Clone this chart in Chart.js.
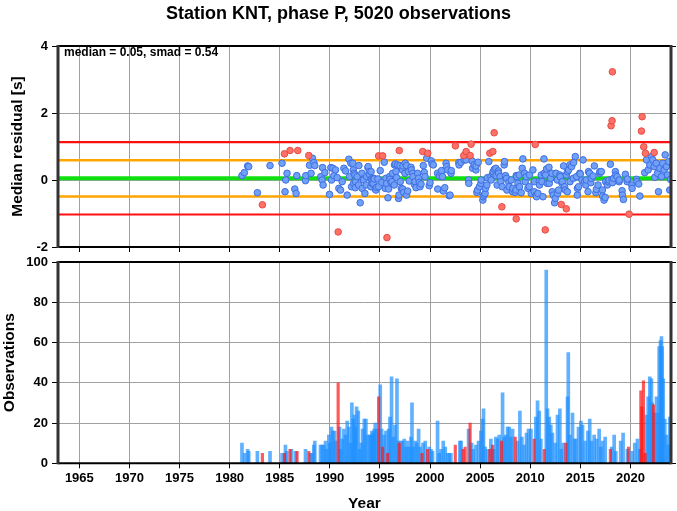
<!DOCTYPE html>
<html><head><meta charset="utf-8">
<script src="https://cdn.jsdelivr.net/npm/chart.js@4.4.1/dist/chart.umd.min.js"></script>
<style>
html,body{margin:0;padding:0;background:#fff;}
#wrap{position:relative;width:677px;height:511px;overflow:hidden;}
canvas{position:absolute;left:0;}
#top{top:0;} #bot{top:250px;}
</style></head><body>
<div id="wrap"><canvas id="top" width="677" height="262"></canvas><canvas id="bot" width="677" height="261"></canvas></div>
<script>
/* ---------- data ---------- */
const titleText='Station KNT, phase P, 5020 observations';
const median=0.05, smad=0.54;
const xMin=1962.87, xMax=2024.05;

// per-bin median residuals (blue = accepted)
const goodYears=[
 1981.23,1981.47,1981.80,1981.90,1982.77,1984.03,1985.23,1985.53,1985.60,1985.73,
 1986.50,1986.63,1986.70,1987.57,1987.60,1987.97,1988.13,1988.27,1988.40,1988.50,
 1989.10,1989.23,1989.27,1989.33,1989.50,1989.97,1990.10,1990.17,1990.30,1990.40,
 1990.57,1990.73,1990.90,1991.07,1991.23,1991.40,1991.57,1991.73,1991.90,1991.97,
 1992.10,1992.17,1992.30,1992.34,1992.38,1992.43,1992.50,1992.54,1992.57,1992.73,
 1992.87,1992.90,1993.03,1993.20,1993.23,1993.34,1993.37,1993.50,1993.63,1993.67,
 1993.80,1993.83,1993.94,1993.97,1994.10,1994.13,1994.20,1994.23,1994.33,1994.40,
 1994.12,1994.43,1994.53,1994.60,1994.67,1994.80,1994.87,1995.03,1995.20,1995.43,
 1995.53,1995.60,1995.67,1995.80,1995.86,1995.97,1996.00,1996.13,1996.20,1996.27,
 1996.43,1996.45,1996.53,1996.60,1996.67,1996.76,1996.86,1996.90,1997.00,1997.03,
 1997.13,1997.26,1997.28,1997.30,1997.37,1997.50,1997.53,1997.66,1997.67,1997.77,
 1997.86,1997.93,1998.10,1998.13,1998.27,1998.30,1998.43,1998.50,1998.60,1998.76,
 1998.85,1998.93,1999.00,1999.10,1999.33,1999.42,1999.50,1999.67,1999.92,2000.00,
 2000.13,2000.20,2000.33,2000.75,2000.77,2000.93,2001.10,2001.15,2001.25,2001.33,
 2001.47,2001.60,2001.65,2001.77,2001.92,2002.00,2002.10,2002.12,2002.87,2002.90,
 2003.10,2003.40,2003.60,2003.85,2003.87,2004.20,2004.25,2004.40,2004.58,2004.60,
 2004.67,2004.74,2004.80,2004.93,2005.08,2005.10,2005.27,2005.30,2005.40,2005.50,
 2005.53,2005.67,2005.74,2005.87,2006.07,2006.10,2006.27,2006.30,2006.43,2006.57,
 2006.60,2006.70,2006.83,2006.84,2007.00,2007.07,2007.20,2007.40,2007.43,2007.53,
 2007.64,2007.67,2007.87,2007.90,2008.10,2008.23,2008.27,2008.50,2008.57,2008.60,
 2008.67,2008.77,2008.90,2008.93,2009.10,2009.20,2009.27,2009.43,2009.50,2009.60,
 2009.77,2009.90,2009.93,2010.10,2010.27,2010.40,2010.43,2010.60,2010.63,2010.77,
 2010.90,2010.93,2011.10,2011.16,2011.27,2011.37,2011.40,2011.53,2011.63,2011.70,
 2011.87,2011.90,2012.03,2012.17,2012.20,2012.30,2012.43,2012.50,2012.57,2012.70,
 2012.73,2012.83,2012.96,2013.00,2013.17,2013.20,2013.33,2013.43,2013.50,2013.60,
 2013.70,2013.72,2013.83,2013.96,2013.97,2014.13,2014.30,2014.33,2014.50,2014.63,
 2014.70,2014.72,2014.83,2014.95,2015.00,2015.17,2015.27,2015.43,2015.55,2015.60,
 2015.77,2015.82,2015.93,2016.05,2016.10,2016.27,2016.40,2016.55,2016.60,2016.77,
 2016.93,2016.95,2017.10,2017.20,2017.23,2017.37,2017.48,2017.53,2017.70,2017.80,
 2017.87,2018.00,2018.17,2018.20,2018.33,2018.50,2018.55,2018.67,2018.87,2018.88,
 2019.17,2019.20,2019.30,2019.50,2019.67,2019.70,2020.14,2020.17,2020.60,2020.65,
 2020.83,2020.94,2021.43,2021.60,2021.77,2021.93,2022.10,2022.23,2022.37,2022.43,
 2022.57,2022.70,2022.80,2022.93,2023.10,2023.23,2023.37,2023.47,2023.60,2023.70,
 2023.83,2023.93,2024.00];
const goodRes=[
 0.13,0.22,0.42,0.40,-0.38,0.43,0.50,-0.35,0.00,0.20,
 -0.27,-0.40,0.13,-0.02,0.13,0.44,0.20,0.65,0.52,0.43,
 0.10,0.00,0.37,-0.15,0.22,-0.43,0.37,0.00,0.35,0.13,
 0.30,0.07,-0.25,-0.30,-0.05,0.35,0.27,-0.45,0.62,0.10,
 0.50,-0.20,0.50,0.30,-0.10,0.20,0.15,-0.23,-0.05,0.10,
 -0.15,0.43,-0.68,0.20,-0.25,0.03,0.00,-0.40,-0.15,0.10,
 0.37,0.40,0.25,0.15,-0.20,0.03,-0.10,0.00,-0.10,0.05,
 0.25,0.03,-0.27,-0.30,-0.22,0.03,-0.20,0.28,-0.07,0.53,
 -0.25,0.05,-0.10,-0.53,-0.27,0.10,0.02,-0.07,-0.05,0.20,
 -0.15,0.45,0.48,0.25,0.07,0.45,-0.55,-0.45,0.43,-0.05,
 -0.25,0.30,-0.27,0.42,-0.37,0.20,0.50,-0.45,0.43,-0.33,
 0.25,-0.03,0.38,0.30,0.20,0.10,-0.13,-0.05,-0.23,0.20,
 0.05,-0.07,-0.20,-0.12,0.43,0.23,0.10,0.65,-0.17,-0.08,
 0.57,0.48,0.45,0.20,-0.27,0.12,0.20,0.28,0.10,-0.33,
 -0.23,0.50,0.40,0.30,-0.47,-0.45,0.20,0.28,0.52,0.45,
 0.53,0.60,0.60,0.00,-0.10,0.57,0.35,0.45,0.30,0.42,
 -0.37,-0.30,0.53,-0.20,-0.10,0.00,-0.60,-0.50,-0.45,-0.40,
 -0.25,-0.15,0.07,0.55,0.10,0.00,0.20,0.25,0.32,0.35,
 0.13,-0.15,0.27,0.20,0.10,-0.05,-0.20,0.45,0.55,0.13,
 0.05,-0.30,-0.07,-0.20,0.00,-0.35,-0.25,-0.37,-0.30,0.13,
 0.10,-0.10,0.15,-0.20,-0.38,0.35,0.63,0.20,-0.05,0.10,
 -0.25,-0.20,0.15,-0.40,0.30,-0.35,-0.05,-0.45,-0.50,-0.40,
 -0.05,-0.15,0.15,-0.05,-0.50,0.63,0.20,0.15,0.33,-0.10,
 0.38,-0.10,0.05,0.20,-0.35,-0.45,-0.68,-0.55,0.20,0.00,
 -0.40,-0.30,0.15,0.10,-0.10,-0.05,0.42,-0.20,-0.30,0.15,
 -0.35,0.25,0.30,0.45,-0.05,0.40,0.05,0.52,0.70,0.10,
 -0.45,-0.25,-0.20,0.20,0.18,0.00,0.60,-0.05,-0.15,0.00,
 -0.35,0.25,0.20,-0.08,0.05,0.12,0.42,-0.38,-0.28,-0.15,
 0.20,0.25,0.25,-0.30,-0.48,-0.60,-0.52,-0.05,-0.15,-0.05,
 0.00,0.47,0.02,-0.08,0.05,0.25,0.15,0.10,-0.05,0.00,
 -0.32,-0.45,-0.58,0.17,-0.05,0.03,-0.15,-0.25,0.02,-0.05,
 -0.12,-0.48,0.22,0.60,0.30,0.45,0.70,0.60,0.40,0.08,
 0.50,0.20,-0.35,0.35,0.10,0.50,0.30,0.75,0.40,0.15,
 0.55,-0.30,0.02];

// outlier bins (red)
const badYears=[1983.27,1985.47,1986.03,1986.80,1987.90,1990.83,1994.87,1995.27,1995.70,1996.93,
 1999.27,1999.77,2002.53,2003.37,2003.60,2004.00,2004.10,2005.97,2006.27,2006.40,
 2007.17,2008.60,2010.50,2011.50,2013.10,2013.60,2018.07,2018.17,2018.20,2019.87,
 2021.10,2021.17,2021.33,2021.50,2022.37];
const badRes=[-0.74,0.78,0.88,0.88,0.73,-1.55,0.72,0.72,-1.72,0.88,
 0.85,0.80,1.02,0.73,0.85,0.73,1.07,0.80,0.85,1.41,
 -0.80,-1.16,1.06,-1.49,-0.73,-0.86,1.62,1.77,3.23,-1.02,
 1.46,1.89,0.99,0.80,0.82];

// observations per bin
const obsYears=[
 1981.23,1981.50,1981.80,1981.90,1982.77,1984.03,1985.23,1985.57,1985.70,1986.17,
 1986.57,1987.57,1988.07,1988.23,1988.40,1988.50,1989.07,1989.23,1989.40,1989.57,
 1989.67,1989.90,1990.00,1990.17,1990.30,1990.47,1990.57,1990.97,1991.07,1991.23,
 1991.40,1991.57,1991.73,1991.90,1992.07,1992.20,1992.33,1992.44,1992.54,1992.67,
 1992.84,1993.00,1993.14,1993.27,1993.44,1993.60,1993.77,1994.00,1994.10,1994.20,
 1994.33,1994.43,1994.53,1994.67,1995.03,1995.17,1995.40,1995.60,1995.87,1996.00,
 1996.16,1996.33,1996.50,1996.70,1996.83,1997.10,1997.26,1997.43,1997.60,1997.76,
 1997.93,1998.10,1998.20,1998.33,1998.53,1998.66,1998.86,1999.00,1999.30,1999.52,
 1999.92,2000.10,2000.25,2000.75,2000.92,2001.10,2001.32,2001.52,2001.75,2001.92,
 2002.08,2002.98,2003.10,2003.85,2004.15,2004.30,2004.58,2004.84,2005.08,2005.24,
 2005.34,2005.50,2005.74,2006.07,2006.34,2006.57,2006.74,2006.90,2007.24,2007.40,
 2007.57,2007.74,2007.90,2008.07,2008.24,2008.74,2008.97,2009.17,2009.40,2009.63,
 2009.83,2010.07,2010.56,2010.73,2010.90,2011.06,2011.60,2011.73,2011.90,2012.06,
 2012.22,2012.50,2012.72,2012.96,2013.10,2013.30,2013.72,2013.80,2013.96,2014.22,
 2014.42,2014.56,2014.82,2015.06,2015.22,2015.48,2015.76,2015.94,2016.14,2016.38,
 2016.62,2016.88,2017.04,2017.22,2017.48,2018.14,2018.38,2018.54,2019.03,2019.27,
 2019.70,2020.17,2020.43,2020.70,2020.93,2021.60,2021.77,2021.93,2022.10,2022.17,
 2022.43,2022.60,2022.77,2022.87,2023.00,2023.10,2023.17,2023.27,2023.43,2023.60,
 2023.77,2023.93];
const obsCounts=[
 10,5,7,6,6,6,5,9,6,7,
 6,7,5,5,9,11,9,9,9,11,
 7,14,10,18,16,16,11,18,7,12,
 17,14,21,18,10,30,22,24,18,28,
 26,7,10,17,22,22,14,14,14,16,
 15,17,20,17,39,17,14,16,17,23,
 43,13,19,42,11,11,11,12,8,11,
 8,13,30,8,11,10,17,8,10,11,
 8,7,6,21,5,7,11,8,5,5,
 5,11,11,17,10,7,9,11,16,22,
 27,8,7,12,7,13,12,14,35,13,
 14,18,18,13,17,11,26,13,9,15,
 17,17,23,31,26,12,96,27,23,19,
 15,10,24,27,7,10,33,55,14,25,
 12,12,18,21,19,11,16,22,11,14,
 12,17,8,11,13,8,14,6,11,15,
 7,6,10,12,7,24,33,43,42,30,
 25,33,25,58,61,63,58,42,22,14,
 9,23];
const badObsYears=[1983.27,1985.47,1986.03,1986.73,1987.90,1990.83,1994.87,1995.27,1995.77,1996.93,
 1999.20,1999.76,2002.52,2003.30,2003.50,2004.00,2005.97,2006.24,2007.14,2008.50,
 2010.40,2011.40,2013.56,2018.00,2019.80,2021.04,2021.14,2021.30,2021.47,2022.30];
const badObsCounts=[5,5,7,6,6,40,33,8,5,10,
 5,7,9,7,8,20,7,9,11,13,
 12,7,10,7,8,36,28,41,5,29];

/* ---------- style ---------- */
const FAM='"Liberation Sans", Arial, Helvetica, sans-serif';
Chart.defaults.font.family=FAM;
Chart.defaults.font.weight='bold';
Chart.defaults.color='#000';
const GRID='#a0a0a0';

/* frame drawn over the data like the GMT box */
const frame={id:'frame',afterDraw(c){
  const a=c.chartArea,x=c.ctx;x.save();
  x.strokeStyle='#000';x.lineWidth=2;x.beginPath();
  x.moveTo(a.left,a.top);x.lineTo(a.right,a.top);
  x.moveTo(a.left,a.bottom);x.lineTo(a.right,a.bottom);x.stroke();
  x.strokeStyle='#333';x.lineWidth=3;x.beginPath();
  x.moveTo(a.left,a.top-1);x.lineTo(a.left,a.bottom+1);
  x.moveTo(a.right,a.top-1);x.lineTo(a.right,a.bottom+1);x.stroke();
  x.restore();
}};
const note={id:'note',afterDraw(c){
  const a=c.chartArea,x=c.ctx;x.save();
  x.font='bold 12px '+FAM;x.fillStyle='#000';x.textBaseline='middle';
  x.fillText('median = '+median.toFixed(2)+', smad = '+smad.toFixed(2),a.left+6,a.top+7);
  x.restore();
}};

function xScale(labels){
  return {type:'linear',min:xMin,max:xMax,offset:false,
    ticks:{stepSize:5,includeBounds:false,display:labels,callback:v=>String(v),font:{size:13},padding:2,maxRotation:0},
    grid:{color:GRID,tickColor:'#000',tickLength:5,offset:false},
    border:{display:false},
    title:{display:labels,text:'Year',font:{size:15.5,lineHeight:1},padding:{top:0,bottom:0}},
    afterFit:s=>{s.height=labels?47.7:15;}};
}
function yLeft(min,max,step,text,pad){
  return {position:'left',min,max,
    ticks:{stepSize:step,font:{size:13},padding:4},
    grid:{color:GRID,tickColor:'#000',tickLength:6},
    border:{display:false},
    title:{display:true,text,font:{size:15.5},padding:{top:pad,bottom:0}},
    afterFit:s=>{s.width=58;}};
}
function yRight(min,max,step){
  return {position:'right',min,max,
    ticks:{stepSize:step,display:false},
    grid:{drawOnChartArea:false,tickColor:'#000',tickLength:5},
    border:{display:false},
    afterFit:s=>{s.width=6;}};
}
const hline=(y,color,w)=>({type:'scatter',data:[{x:xMin,y},{x:xMax,y}],showLine:true,
  borderColor:color,borderWidth:w,pointRadius:0,order:5});

/* ---------- residual panel ---------- */
new Chart(document.getElementById('top'),{
  type:'scatter',
  data:{datasets:[
    hline(median+2*smad,'#ff1010',2.2),
    hline(median-2*smad,'#ff1010',2.2),
    hline(median+smad,'#ffa500',2.5),
    hline(median-smad,'#ffa500',2.5),
    hline(median,'#10e010',4),
    {data:goodYears.map((x,i)=>({x,y:goodRes[i]})),backgroundColor:'#70a0f8',borderColor:'#3e6ee0',
      borderWidth:1,pointRadius:3.3,order:2},
    {data:badYears.map((x,i)=>({x,y:badRes[i]})),backgroundColor:'#ff7066',borderColor:'#e34c46',
      borderWidth:1,pointRadius:3.3,order:1}
  ]},
  options:{responsive:false,animation:false,
    layout:{padding:0},
    plugins:{legend:{display:false},tooltip:{enabled:false},
      title:{display:true,text:titleText,font:{size:18,weight:'bold'},color:'#000',padding:{top:3,bottom:21.4}}},
    scales:{x:xScale(false),y:yLeft(-2,4,2,'Median residual [s]',8.7),y2:yRight(-2,4,2)}
  },
  plugins:[frame,note]
});

/* ---------- observations panel ---------- */
new Chart(document.getElementById('bot'),{
  type:'bar',
  data:{datasets:[
    {data:obsYears.map((x,i)=>({x,y:obsCounts[i]})),backgroundColor:'rgba(30,144,255,0.7)',
      barThickness:3,grouped:false,order:2},
    {data:badObsYears.map((x,i)=>({x,y:badObsCounts[i]})),backgroundColor:'rgba(255,20,20,0.7)',
      barThickness:2.5,grouped:false,order:1}
  ]},
  options:{responsive:false,animation:false,
    layout:{padding:{top:12}},
    plugins:{legend:{display:false},tooltip:{enabled:false}},
    scales:{x:xScale(true),y:yLeft(0,100,20,'Observations',0.7),y2:yRight(0,100,20)}
  },
  plugins:[frame]
});
</script>
</body></html>
